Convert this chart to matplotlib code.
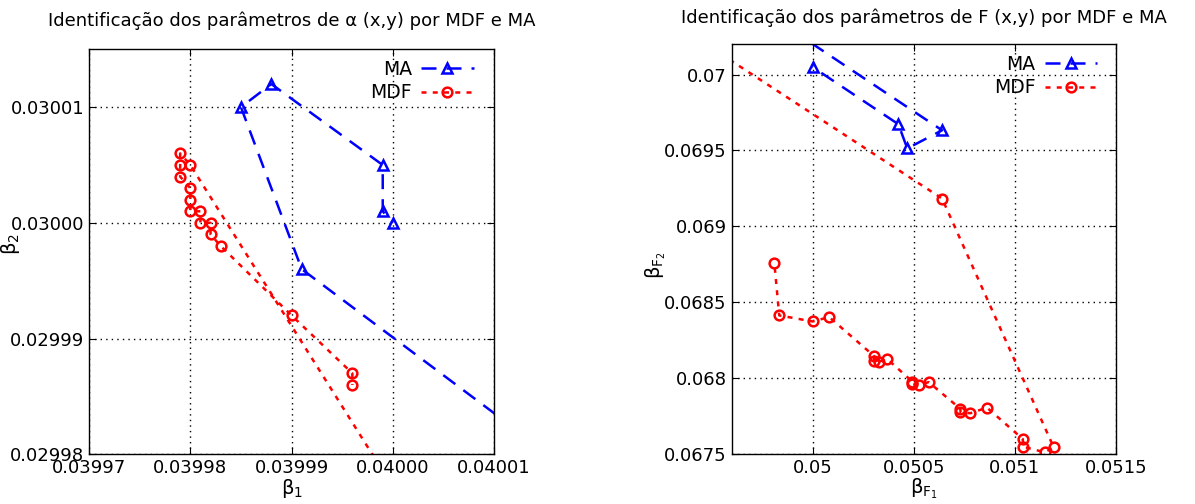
import matplotlib
matplotlib.use('Agg')
import matplotlib.pyplot as plt
from matplotlib.ticker import FormatStrFormatter, FixedLocator

# alpha(x,y) -- MA path
ma_a_b1 = [0.04002, 0.039991, 0.039985, 0.039988, 0.039999, 0.039999, 0.04000]
ma_a_b2 = [0.029977, 0.029996, 0.030010, 0.030012, 0.030005, 0.030001, 0.030000]

# alpha(x,y) -- MDF path
mdf_a_b1 = [0.040003, 0.03998, 0.039979, 0.039979, 0.039979, 0.03998, 0.03998, 0.03998,
            0.039981, 0.039981, 0.039982, 0.039982, 0.039983, 0.03999, 0.039996, 0.039996]
mdf_a_b2 = [0.029973, 0.030005, 0.030006, 0.030005, 0.030004, 0.030003, 0.030002, 0.030001,
            0.030001, 0.030000, 0.030000, 0.029999, 0.029998, 0.029992, 0.029987, 0.029986]

# F(x,y) -- MA path
ma_f_b1 = [0.04989, 0.05064, 0.050468, 0.050424, 0.05000]
ma_f_b2 = [0.07030, 0.069633, 0.069513, 0.069673, 0.07005]

# F(x,y) -- MDF path
mdf_f_b1 = [0.04945, 0.05064, 0.051192, 0.051148, 0.051041, 0.051039, 0.050862, 0.05078,
            0.050731, 0.050731, 0.050574, 0.050525, 0.050493, 0.050493, 0.050369, 0.050328,
            0.050303, 0.050303, 0.050082, 0.05000, 0.049835, 0.049811]
mdf_f_b2 = [0.07022, 0.069183, 0.067542, 0.067509, 0.067546, 0.067597, 0.067804, 0.067767,
            0.067773, 0.067795, 0.067972, 0.067954, 0.067960, 0.067976, 0.068124, 0.068108,
            0.068114, 0.068145, 0.068401, 0.068372, 0.068412, 0.068755]

a_xticks = [0.03997, 0.03998, 0.03999, 0.04000, 0.04001]
a_yticks = [0.02998, 0.02999, 0.03000, 0.03001]
f_xticks = [0.05, 0.0505, 0.051, 0.0515]
f_yticks = [0.0675, 0.068, 0.0685, 0.069, 0.0695, 0.07]

plt.rcParams['font.family'] = 'DejaVu Sans'
plt.rcParams['font.size'] = 13

fig = plt.figure(figsize=(11.95, 5.04), dpi=100)
ax1 = fig.add_axes([0.0745, 0.0986, 0.339, 0.8036])
ax2 = fig.add_axes([0.6123, 0.0998, 0.3216, 0.8123])


def style(ax, xanchor):
    ax.grid(True, color='black', linestyle=(0, (1, 3)), linewidth=1.0)
    ax.tick_params(direction='in', top=True, right=True, length=5, labelsize=13)
    for s in ax.spines.values():
        s.set_linewidth(1.0)
    ax.legend(loc='upper right', bbox_to_anchor=(xanchor, 1.0), frameon=False,
              markerfirst=False, handlelength=2.8, handletextpad=0.5, fontsize=13.5,
              borderaxespad=0.15, labelspacing=0.25)


ma_kw = dict(color='blue', linestyle=(0, (6, 4)), linewidth=1.8, marker='^',
             markersize=7, markerfacecolor='none', markeredgewidth=1.8, label='MA')
mdf_kw = dict(color='red', linestyle=(0, (2, 2.5)), linewidth=1.8, marker='o',
              markersize=7, markerfacecolor='none', markeredgewidth=1.8, label='MDF')

ax1.plot(ma_a_b1, ma_a_b2, **ma_kw)
ax1.plot(mdf_a_b1, mdf_a_b2, **mdf_kw)
ax1.set_xlim(0.03997, 0.04001)
ax1.set_ylim(0.02998, 0.030015)
ax1.xaxis.set_major_locator(FixedLocator(a_xticks))
ax1.yaxis.set_major_locator(FixedLocator(a_yticks))
ax1.xaxis.set_major_formatter(FormatStrFormatter('%.5f'))
ax1.yaxis.set_major_formatter(FormatStrFormatter('%.5f'))
ax1.set_xlabel(r'$\mathregular{β_1}$', fontsize=14, labelpad=0)
ax1.set_ylabel(r'$\mathregular{β_2}$', fontsize=14)
ax1.yaxis.set_label_coords(-0.165, 0.52)
ax1.set_title('Identificação dos parâmetros de α (x,y) por MDF e MA', fontsize=13, pad=17)
style(ax1, 0.975)

ax2.plot(ma_f_b1, ma_f_b2, **ma_kw)
ax2.plot(mdf_f_b1, mdf_f_b2, **mdf_kw)
ax2.set_xlim(0.0496, 0.0515)
ax2.set_ylim(0.0675, 0.0702)
ax2.xaxis.set_major_locator(FixedLocator(f_xticks))
ax2.yaxis.set_major_locator(FixedLocator(f_yticks))
ax2.xaxis.set_major_formatter(FormatStrFormatter('%g'))
ax2.yaxis.set_major_formatter(FormatStrFormatter('%g'))
ax2.set_xlabel(r'$\mathregular{β_{F_1}}$', fontsize=14, labelpad=0)
ax2.set_ylabel(r'$\mathregular{β_{F_2}}$', fontsize=14)
ax2.yaxis.set_label_coords(-0.165, 0.46)
ax2.set_title('Identificação dos parâmetros de F (x,y) por MDF e MA', fontsize=13, pad=15)
style(ax2, 0.978)

fig.savefig('out.png', dpi=100)
